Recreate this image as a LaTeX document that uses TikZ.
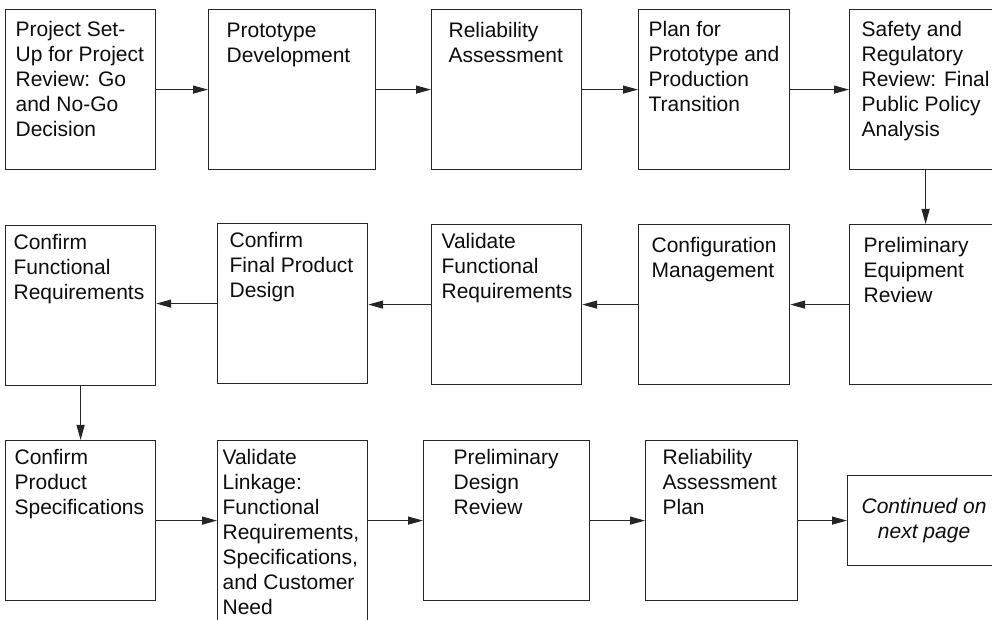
\documentclass[tikz,border=0pt]{standalone}
\usepackage{fontspec}
\setmainfont{Liberation Sans}
\usepackage{tikz}
\usetikzlibrary{arrows.meta}
% width, height, left inset, top inset, lines
\newcommand{\boxtext}[5]{\begin{minipage}[t][#2][t]{#1}\vspace*{#4}\raggedright\leftskip=#3\relax #5\end{minipage}}
\tikzset{
  procbox/.style={draw=black!85, line width=0.6pt, inner sep=0pt, anchor=north west, text=black!95, font=\fontsize{10.5}{12.5}\selectfont},
  flow/.style={draw=black!85, line width=0.6pt, -{Triangle[length=7.5pt,width=4pt]}}
}

\begin{document}
\begin{tikzpicture}[x=0.5pt, y=-0.5pt]
			%%%%% START %%%%%
			\useasboundingbox (0,0) rectangle (992,620);
			\clip (0,0) rectangle (992,620);
			
			% first row
			\node[procbox] (setup) at (5,9) {\boxtext{75pt}{80pt}{5pt}{6pt}{Project Set-\\Up for Project\\Review: Go\\and No-Go\\Decision}};
			\node[procbox] (proto) at (208,9) {\boxtext{83.5pt}{80pt}{9pt}{6.5pt}{Prototype\\Development}};
			\node[procbox] (relassess) at (431,9) {\boxtext{75pt}{80pt}{8.5pt}{6.5pt}{Reliability\\Assessment}};
			\node[procbox] (transplan) at (638,9) {\boxtext{75.5pt}{80pt}{5pt}{6pt}{Plan for\\Prototype and\\Production\\Transition}};
			\node[procbox] (safety) at (849,9) {\boxtext{76pt}{80pt}{6pt}{6pt}{Safety and\\Regulatory\\Review: Final\\Public Policy\\Analysis}};
			
			% second row
			\node[procbox] (conffunc) at (5,225) {\boxtext{75pt}{80pt}{4pt}{4.5pt}{Confirm\\Functional\\Requirements}};
			\node[procbox] (confdesign) at (217,223) {\boxtext{75pt}{80pt}{6pt}{4.5pt}{Confirm\\Final Product\\Design}};
			\node[procbox] (valfunc) at (431,224) {\boxtext{75pt}{80pt}{5pt}{4.5pt}{Validate\\Functional\\Requirements}};
			\node[procbox] (config) at (638,224) {\boxtext{75.5pt}{80pt}{6.5pt}{6.5pt}{Configuration\\Management}};
			\node[procbox] (prelequip) at (849,224) {\boxtext{76pt}{80pt}{7pt}{6.5pt}{Preliminary\\Equipment\\Review}};
			
			% third row
			\node[procbox] (confspec) at (5,440) {\boxtext{75pt}{80pt}{4.5pt}{4.5pt}{Confirm\\Product\\Specifications}};
			\node[procbox] (vallink) at (217,440) {\boxtext{75pt}{95pt}{2.5pt}{4.5pt}{Validate\\Linkage:\\Functional\\Requirements,\\Specifications,\\and Customer\\Need}};
			\node[procbox] (prelreview) at (423,440) {\boxtext{83pt}{80pt}{15pt}{4.5pt}{Preliminary\\Design\\Review}};
			\node[procbox] (relplan) at (645,440) {\boxtext{76pt}{80pt}{8.5pt}{4.5pt}{Reliability\\Assessment\\Plan}};
			\node[procbox, align=center, minimum width=76.5pt, minimum height=45pt, font=\fontsize{10.5}{12.5}\selectfont\itshape] (contd) at (847,475) {Continued on\\next page};
			
			% connectors
			\draw[flow] (setup.east) -- (proto.west);
			\draw[flow] (proto.east) -- (relassess.west);
			\draw[flow] (relassess.east) -- (transplan.west);
			\draw[flow] (transplan.east) -- (safety.west);
			\draw[flow] (safety.south) -- (prelequip.north);
			
			\draw[flow] (prelequip.west) -- (config.east);
			\draw[flow] (config.west) -- (valfunc.east);
			\draw[flow] (valfunc.west) -- (valfunc.west -| confdesign.east);
			\draw[flow] (confdesign.west) -- (confdesign.west -| conffunc.east);
			\draw[flow] (conffunc.south) -- (confspec.north);
			
			\draw[flow] (confspec.east) -- (confspec.east -| vallink.west);
			\draw[flow] (prelreview.west -| vallink.east) -- (prelreview.west);
			\draw[flow] (prelreview.east) -- (relplan.west);
			\draw[flow] (relplan.east) -- (contd.west);
			
			%%%%% END %%%%%
\end{tikzpicture}
\end{document}
